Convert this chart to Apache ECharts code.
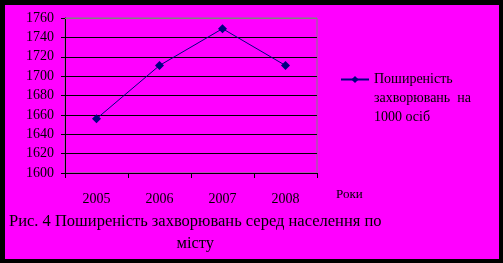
<!DOCTYPE html>
<html>
<head>
<meta charset="utf-8">
<script src="https://cdn.jsdelivr.net/npm/echarts@6/dist/echarts.min.js"></script>
<style>
  html, body { margin: 0; padding: 0; background: #000; }
  #chart { position: absolute; left: 5px; top: 5px; width: 494px; height: 254px; }
</style>
</head>
<body>
<div id="chart"></div>
<script>
var years = ['2005', '2006', '2007', '2008'];
var prevalence = [1656, 1711, 1749, 1711];
var seriesName = 'Поширеність\nзахворювань  на\n1000 осіб';
var caption = 'Рис. 4 Поширеність захворювань серед населення по\nмісту';

var font = '"Liberation Serif", "DejaVu Serif", serif';
var chart = echarts.init(document.getElementById('chart'), null, {renderer: 'canvas'});

var option = {
    backgroundColor: '#ff00ff',
    animation: false,
    grid: {
        left: 60, top: 13, width: 252, height: 155,
        show: true, borderColor: '#808080', borderWidth: 1, backgroundColor: 'transparent'
    },
    legend: {
        left: 330, top: 22,
        orient: 'vertical',
        itemWidth: 28, itemHeight: 9,
        itemGap: 0,
        // два порожні рядки зверху - щоб значок став навпроти першого рядка
        formatter: function (name) { return '\n\n' + name; },
        textStyle: {fontFamily: font, fontSize: 14, color: '#000', lineHeight: 19},
        data: [seriesName]
    },
    xAxis: {
        type: 'category',
        data: years,
        boundaryGap: true,
        name: 'Роки',
        nameLocation: 'end',
        nameGap: 19,
        nameTextStyle: {fontFamily: font, fontSize: 13, color: '#000', verticalAlign: 'top', padding: [15, 0, 0, 0]},
        axisLine: {lineStyle: {color: '#000', width: 1}},
        axisTick: {show: true, length: 5, lineStyle: {color: '#000'}},
        axisLabel: {fontFamily: font, fontSize: 14, color: '#000', margin: 19}
    },
    yAxis: {
        type: 'value',
        min: 1600, max: 1760, interval: 20,
        axisLine: {show: true, lineStyle: {color: '#000', width: 1}},
        axisTick: {show: true, length: 4, lineStyle: {color: '#000'}},
        axisLabel: {fontFamily: font, fontSize: 14, color: '#000', margin: 11,
            formatter: function (v) { return String(v); }},
        splitLine: {show: true, lineStyle: {color: '#000', width: 1}}
    },
    series: [{
        name: seriesName,
        type: 'line',
        data: prevalence,
        symbol: 'diamond',
        symbolSize: 9,
        lineStyle: {color: '#000080', width: 1},
        itemStyle: {color: '#000080'},
        // верхня межа області побудови - сіра
        markLine: {
            silent: true, symbol: 'none', label: {show: false},
            lineStyle: {color: '#808080', type: 'solid', width: 1},
            data: [{yAxis: 1760}]
        }
    }],
    graphic: [{
        type: 'text',
        left: 4, top: 206,
        style: {
            text: caption,
            x: 186,
            textAlign: 'center',
            fontFamily: font, fontSize: 16.5, lineHeight: 22, fill: '#000'
        }
    }]
};
chart.setOption(option);
</script>
</body>
</html>
